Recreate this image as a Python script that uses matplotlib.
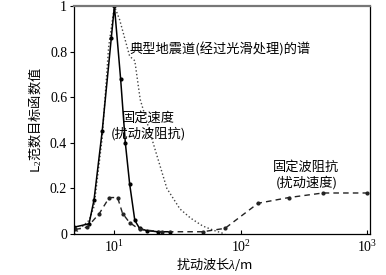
import matplotlib
matplotlib.use("Agg")
import matplotlib.pyplot as plt
import numpy as np

plt.rcParams['font.family'] = ['Noto Sans CJK SC', 'DejaVu Sans']
plt.rcParams['mathtext.fontset'] = 'custom'
plt.rcParams['mathtext.rm'] = 'Liberation Serif'
plt.rcParams['mathtext.it'] = 'Liberation Serif:italic'

# fixed velocity (perturbed impedance) - solid
vel_x = [4.8, 6.3, 6.9, 8.0, 9.45, 10.0, 11.2, 12.2, 13.2, 14.5, 15.8, 18.0, 22.0, 27.5]
vel_y = [0.03, 0.045, 0.15, 0.45, 0.86, 1.0, 0.68, 0.40, 0.22, 0.06, 0.025, 0.015, 0.01, 0.01]

# typical seismic trace spectrum (smoothed) - dotted
spec_x = [4.8, 6.3, 6.9, 8.0, 9.0, 10.0, 11.0, 13.2, 14.5, 16.0, 21.0, 26.0, 33.0, 40.0, 50.0, 62.0, 75.0]
spec_y = [0.0, 0.06, 0.12, 0.42, 0.82, 1.0, 0.94, 0.78, 0.76, 0.59, 0.37, 0.20, 0.11, 0.07, 0.035, 0.015, 0.0]

# fixed impedance (perturbed velocity) - dashed
imp_x = [4.9, 6.1, 7.6, 9.1, 10.6, 11.6, 13.2, 15.8, 24.0, 50.0, 75.0, 137.0, 240.0, 446.0, 1000.0]
imp_y = [0.02, 0.03, 0.09, 0.16, 0.16, 0.09, 0.05, 0.02, 0.01, 0.01, 0.025, 0.135, 0.16, 0.18, 0.18]

y_ticks = [0, 0.2, 0.4, 0.6, 0.8, 1]
y_tick_labels = ['0', '0.2', '0.4', '0.6', '0.8', '1']
x_ticks = [10, 100, 1000]
x_tick_labels = ['$10^1$', '$10^2$', '$10^3$']

fig = plt.figure(figsize=(3.86, 2.75), dpi=100)
ax = fig.add_axes([0.192, 0.149, 0.767, 0.829])

ax.plot(spec_x, spec_y, color='#444444', linestyle=':', linewidth=1.0)
ax.plot(vel_x, vel_y, color='black', linestyle='-', linewidth=1.1,
        marker='o', markersize=2)
ax.plot(imp_x, imp_y, color='#222222', linestyle='--', linewidth=1.0,
        dashes=(4, 3), marker='o', markersize=2)

ax.set_xscale('log')
ax.set_xlim(4.8, 1055)
ax.set_ylim(0, 1)
ax.minorticks_off()
ax.set_xticks(x_ticks)
ax.set_xticklabels(x_tick_labels, fontsize=10)
ax.set_yticks(y_ticks)
ax.set_yticklabels(y_tick_labels, fontsize=10, fontfamily='Liberation Serif')
ax.tick_params(axis='x', direction='in', length=3, pad=4)
ax.tick_params(axis='y', direction='out', length=3, pad=2)

for s in ['left', 'bottom', 'right']:
    ax.spines[s].set_linewidth(0.9)
ax.spines['top'].set_color('#777777')
ax.spines['top'].set_linewidth(1.6)

ax.set_ylabel('L$_2$范数目标函数值', fontsize=9.5, labelpad=4)
ax.set_xlabel('扰动波长$\\lambda$/m', fontsize=9.5)
ax.xaxis.set_label_coords(0.473, -0.093)

ax.text(13.2, 0.81, '典型地震道(经过光滑处理)的谱', fontsize=9.5, va='center', ha='left')
ax.text(18.5, 0.51, '固定速度', fontsize=9.5, ha='center', va='center')
ax.text(18.5, 0.44, '(扰动波阻抗)', fontsize=9.5, ha='center', va='center')
ax.text(330, 0.295, '固定波阻抗', fontsize=9.5, ha='center', va='center')
ax.text(330, 0.225, '(扰动速度)', fontsize=9.5, ha='center', va='center')

fig.savefig('out.png', dpi=100)
